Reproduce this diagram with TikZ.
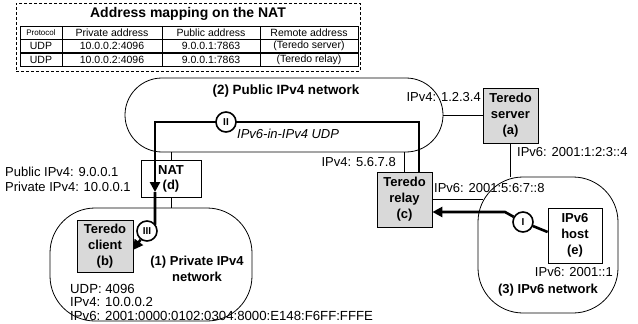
\documentclass[tikz,border=0pt]{standalone}
\usepackage{fontspec}
\setmainfont{Liberation Sans}
\usetikzlibrary{arrows.meta}
\begin{document}
\begin{tikzpicture}[x=1pt,y=-1pt,
  lbl/.style={font=\fontsize{13}{15}\selectfont, inner sep=0},
  blbl/.style={font=\fontsize{13}{16}\selectfont\bfseries, inner sep=0, align=center},
  devbox/.style={draw, line width=0.8pt, inner sep=0, align=center, font=\fontsize{13}{16}\selectfont\bfseries},
  teredo/.style={devbox, fill=gray!30},
  net/.style={draw, line width=0.8pt, inner sep=0},
  thinline/.style={line width=0.8pt},
  thickarrow/.style={line width=2.6pt, -{Triangle[length=10pt,width=10pt]}},
  thickline/.style={line width=2.6pt},
  stepcirc/.style={circle, draw, fill=white, line width=1.6pt, minimum size=20pt, inner sep=0, font=\fontsize{10}{12}\selectfont\bfseries},
  cell/.style={draw, line width=0.8pt, inner sep=0, minimum height=13pt, font=\fontsize{10.5}{12}\selectfont},
]
\useasboundingbox (0,0) rectangle (638,324);

% ---- mapping table ----
\node[draw, dashed, line width=0.8pt, dash pattern=on 3pt off 2pt, minimum width=344pt, minimum height=68pt, inner sep=0] (mapbox) at (188,37) {};
\node[blbl, font=\fontsize{14}{16}\selectfont\bfseries] (maptitle) at (188,13.5) {Address mapping on the NAT};
\node[cell, minimum width=42pt, font=\fontsize{8}{10}\selectfont] (h1) at (41,32.5) {Protocol};
\node[cell, minimum width=100pt] (h2) at (112,32.5) {Private address};
\node[cell, minimum width=98pt] (h3) at (211,32.5) {Public address};
\node[cell, minimum width=98pt] (h4) at (309,32.5) {Remote address};
\node[cell, minimum width=42pt] (a1) at (41,46) {UDP};
\node[cell, minimum width=100pt] (a2) at (112,46) {10.0.0.2:4096};
\node[cell, minimum width=98pt] (a3) at (211,46) {9.0.0.1:7863};
\node[cell, minimum width=98pt] (a4) at (309,46) {(Teredo server)};
\node[cell, minimum width=42pt] (b1) at (41,59.5) {UDP};
\node[cell, minimum width=100pt] (b2) at (112,59.5) {10.0.0.2:4096};
\node[cell, minimum width=98pt] (b3) at (211,59.5) {9.0.0.1:7863};
\node[cell, minimum width=98pt] (b4) at (309,59.5) {(Teredo relay)};

% ---- networks ----
\node[net, rounded corners=37pt, minimum width=318pt, minimum height=74pt] (pub) at (284,115) {};
\node[net, rounded corners=45pt, minimum width=202pt, minimum height=113pt] (priv) at (151,264.5) {};
\node[net, rounded corners=45pt, minimum width=140pt, minimum height=136pt] (v6) at (548,245) {};

\node[blbl, font=\fontsize{13.4}{16}\selectfont\bfseries] (publbl) at (286,91) {(2) Public IPv4 network};
\node[blbl] (privlbl) at (197,269) {(1) Private IPv4\\network};
\node[blbl] (v6lbl) at (548,290) {(3) IPv6 network};

% ---- devices ----
\node[teredo, minimum width=55pt, minimum height=55pt] (server) at (510.5,115.5) {Teredo\\server\\(a)};
\node[teredo, minimum width=55pt, minimum height=55pt] (relay) at (404.5,199.5) {Teredo\\relay\\(c)};
\node[teredo, minimum width=56pt, minimum height=52pt] (client) at (105,246.5) {Teredo\\client\\(b)};
\node[devbox, fill=white, minimum width=60pt, minimum height=37pt, font=\fontsize{13}{15}\selectfont\bfseries] (nat) at (171,178.5) {NAT\\(d)};
\node[devbox, fill=white, minimum width=54pt, minimum height=55pt] (host) at (575,235.5) {IPv6\\host\\(e)};

% ---- thin links ----
\coordinate (v6edge) at (483,200);
\draw[thinline] (server.west) -- (server.west -| pub.east);
\draw[thinline] (server.south) -- (server.south |- v6.north);
\draw[thinline] (relay.east) -- (relay.east -| v6edge);
\draw[thinline] (relay.north) -- (relay.north |- pub.south);
\draw[thinline] (nat.north) -- (nat.north |- pub.south);
\draw[thinline] (nat.south) -- (nat.south |- priv.north);

% ---- address labels ----
\node[lbl, anchor=east] (srv4) at (481,97) {IPv4: 1.2.3.4};
\node[lbl, anchor=west] (srv6) at (517,152) {IPv6: 2001:1:2:3::4};
\node[lbl, anchor=east] (rel4) at (396,162) {IPv4: 5.6.7.8};
\node[lbl, anchor=west] (rel6) at (434,188) {IPv6: 2001:5:6:7::8};
\node[lbl, anchor=east] (host6) at (613,272) {IPv6: 2001::1};
\node[lbl, anchor=west] (natpub) at (5,172) {Public IPv4: 9.0.0.1};
\node[lbl, anchor=west] (natpriv) at (5,187) {Private IPv4: 10.0.0.1};
\node[lbl, anchor=west, align=left, font=\fontsize{13.2}{13.5}\selectfont] (cliaddr) at (70,302) {UDP: 4096\\IPv4: 10.0.0.2\\IPv6: 2001:0000:0102:0304:8000:E148:F6FF:FFFE};
\node[lbl, anchor=west, font=\fontsize{13}{15}\selectfont\itshape] (tunlbl) at (237,134) {IPv6-in-IPv4 UDP};

% ---- thick paths ----
\coordinate (corner2) at (155,122);
\coordinate (nattip) at (155,192);
\coordinate (down3) at (155,224);
\coordinate (clitip) at (133,250);
\coordinate (bend1) at (505,212);
\draw[thickarrow] ([xshift=14.5pt]relay.north) |- (corner2) -- (nattip);
\node[stepcirc] (c2) at (226,122) {II};
\draw[thickline] (nattip) -- (down3) -- (147,231);
\node[stepcirc] (c3) at (147,231) {III};
\draw[thickarrow] (c3) -- (clitip);
\node[stepcirc] (c1) at (523,222) {I};
\draw[thickline] (host.west |- 0,232) -- (c1);
\draw[thickarrow] (c1) -- (bend1) -- (relay.east |- bend1);
\end{tikzpicture}
\end{document}
